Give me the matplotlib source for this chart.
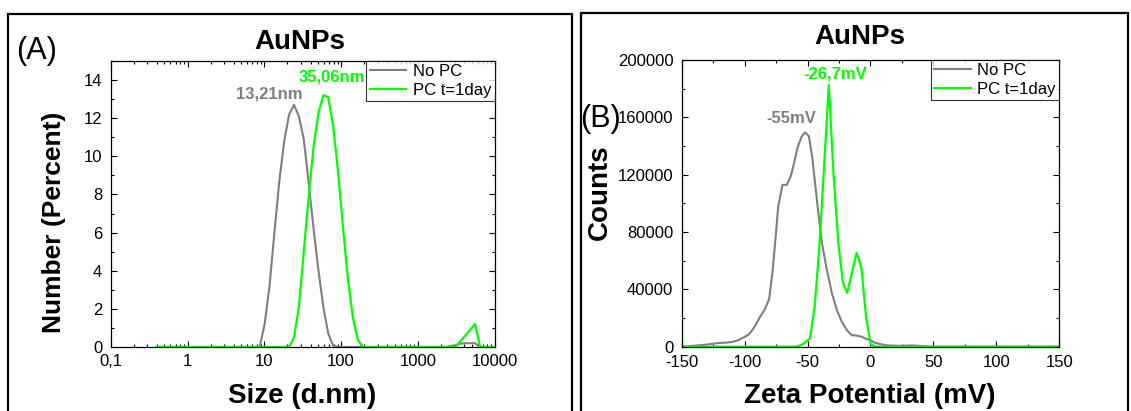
import matplotlib
matplotlib.use("Agg")
import matplotlib.pyplot as plt
from matplotlib.patches import Rectangle
from matplotlib.ticker import LogLocator, MultipleLocator, NullFormatter

plt.rcParams['font.family'] = ['Liberation Sans', 'DejaVu Sans']
plt.rcParams['axes.unicode_minus'] = False

# ---- size distribution by number (DLS) ----
size_nopc = [0.4, 7.531, 8.721, 10.1, 11.7, 13.54, 15.69, 18.17, 21.04, 24.36, 28.21,
             32.67, 37.84, 43.82, 50.75, 58.77, 68.06, 78.82, 91.28, 1990, 2305, 2669,
             3091, 3580, 4145, 4801, 5560, 6439, 10000]
number_nopc = [0, 0, 0, 1.2, 3.2, 6.0, 8.7, 10.8, 12.2, 12.7, 12.1,
               10.9, 8.6, 6.2, 4.0, 2.1, 0.7, 0.07, 0, 0, 0, 0.05,
               0.1, 0.18, 0.2, 0.2, 0.2, 0, 0]

size_pc = [0.4, 21.04, 24.36, 28.21, 32.67, 37.84, 43.82, 50.75, 58.77, 68.06, 78.82,
           91.28, 105.7, 122.4, 141.8, 164.2, 190.1, 3091, 3580, 4145, 4801, 5560,
           6439, 10000]
number_pc = [0, 0, 0.5, 2.1, 5.0, 7.9, 10.5, 12.3, 13.2, 13.1, 11.6,
             9.2, 6.3, 3.6, 1.6, 0.4, 0, 0, 0.3, 0.6, 0.9, 1.2,
             0, 0]

size_ticks = [0.1, 1, 10, 100, 1000, 10000]
size_tick_labels = ["0,1", "1", "10", "100", "1000", "10000"]

# ---- zeta potential distribution ----
zeta_nopc = [-150, -145, -140, -135, -130, -125, -120, -115, -110, -105, -100, -97,
             -94, -91, -88, -85, -83.5, -80.4, -77.7, -75.1, -73.3, -69.9, -66.5,
             -63.4, -60.7, -58.1, -54.7, -52, -49, -46.3, -43.7, -41.1, -38.5,
             -34.6, -30.6, -26.7, -22.8, -18.8, -14.9, -11, -7.1, -3.1, 0, 3.4, 8,
             13, 18, 24, 30, 34.5, 42, 50, 150]
counts_nopc = [0, 300, 700, 1100, 1500, 2100, 2600, 2800, 3300, 4600, 6800, 8300,
               11500, 15500, 20500, 24500, 26800, 33700, 53500, 79000, 97700, 112900, 112900,
               118700, 128000, 138500, 146600, 149500, 147000, 132600, 111700, 90800, 72100,
               53500, 37200, 25600, 17500, 11600, 8100, 7700, 7000, 5300, 4650, 2800, 1800,
               1000, 700, 600, 800, 900, 300, 0, 0]

zeta_pc = [-150, -61, -58, -54, -50.5, -48, -44.3, -40.6, -36.9, -33.1, -29.4, -25.5,
           -21.9, -18.5, -14.8, -11, -7.2, -3.5, 0.2, 4, 150]
counts_pc = [0, 0, 300, 1500, 4000, 6000, 28000, 70000, 125000, 182500, 121000, 72000,
             45000, 37500, 51500, 65500, 55000, 21000, 1500, 0, 0]

zeta_ticks = [-150, -100, -50, 0, 50, 100, 150]
count_ticks = [0, 40000, 80000, 120000, 160000, 200000]

series_labels = ["No PC", "PC t=1day"]
gray = "#7f7f7f"
green = "#00ff00"

W, H = 1131, 411
fig = plt.figure(figsize=(W / 100, H / 100), dpi=100)


def fx(px):
    return px / W


def fy(py):
    return 1 - py / H


def style_axes(ax):
    for s in ax.spines.values():
        s.set_linewidth(0.9)
        s.set_color("black")
    ax.tick_params(which="both", direction="in", top=True, right=True,
                   labelsize=12, width=0.8)
    ax.tick_params(which="major", length=4)
    ax.tick_params(which="minor", length=2.5)
    ax.tick_params(axis="x", pad=5)
    ax.tick_params(axis="y", pad=6)


# panel frames
fig.add_artist(Rectangle((fx(8), fy(430)), fx(572 - 8), fy(14) - fy(430),
                         transform=fig.transFigure, fill=False, lw=1.6,
                         edgecolor="black", clip_on=False))
fig.add_artist(Rectangle((fx(581), fy(430)), fx(1128 - 581), fy(13) - fy(430),
                         transform=fig.transFigure, fill=False, lw=1.6,
                         edgecolor="black", clip_on=False))

# ---- left: size ----
ax1 = fig.add_axes([fx(110.7), fy(347), fx(494.7 - 110.7), fy(61) - fy(347)])
ax1.plot(size_nopc, number_nopc, color=gray, lw=1.5, label=series_labels[0])
ax1.plot(size_pc, number_pc, color=green, lw=1.6, label=series_labels[1])
ax1.set_xscale("log")
ax1.set_xlim(0.1, 10000)
ax1.set_ylim(0, 15)
ax1.set_xticks(size_ticks)
ax1.set_xticklabels(size_tick_labels)
ax1.xaxis.set_minor_locator(LogLocator(base=10, subs=range(2, 10), numticks=20))
ax1.xaxis.set_minor_formatter(NullFormatter())
ax1.yaxis.set_major_locator(MultipleLocator(2))
ax1.yaxis.set_minor_locator(MultipleLocator(1))
style_axes(ax1)
ax1.text(11.5, 13.28, "13,21nm", color=gray, fontsize=12, fontweight="bold",
         ha="center", va="center")
ax1.text(75, 14.15, "35,06nm", color=green, fontsize=12, fontweight="bold",
         ha="center", va="center")
leg1 = ax1.legend(loc="upper right", borderaxespad=0, fontsize=12, frameon=True,
                  fancybox=False, handlelength=2.2, handletextpad=0.4,
                  labelspacing=0.2, borderpad=0.2)
leg1.get_frame().set_edgecolor("black")
leg1.get_frame().set_linewidth(0.8)

fig.text(fx(300), fy(41.7), "AuNPs", fontsize=20, fontweight="bold",
         ha="center", va="center")
fig.text(fx(302), fy(396), "Size (d.nm)", fontsize=20, fontweight="bold",
         ha="center", va="center")
fig.text(fx(54), fy(222), "Number (Percent)", fontsize=19, fontweight="bold",
         ha="center", va="center", rotation=90)
fig.text(fx(36.5), fy(51.5), "(A)", fontsize=22, ha="center", va="center")

# ---- right: zeta potential ----
ax2 = fig.add_axes([fx(681.7), fy(346.7), fx(1059.2 - 681.7), fy(60) - fy(346.7)])
ax2.plot(zeta_nopc, counts_nopc, color=gray, lw=1.5, label=series_labels[0])
ax2.plot(zeta_pc, counts_pc, color=green, lw=1.6, label=series_labels[1])
ax2.set_xlim(-150, 150)
ax2.set_ylim(0, 200000)
ax2.set_xticks(zeta_ticks)
ax2.set_yticks(count_ticks)
ax2.xaxis.set_minor_locator(MultipleLocator(25))
ax2.yaxis.set_minor_locator(MultipleLocator(20000))
style_axes(ax2)
ax2.tick_params(axis="x", pad=6)
ax2.text(-27.7, 190400, "-26,7mV", color=green, fontsize=12, fontweight="bold",
         ha="center", va="center")
ax2.text(-62.5, 159000, "-55mV", color=gray, fontsize=12, fontweight="bold",
         ha="center", va="center")
leg2 = ax2.legend(loc="upper right", borderaxespad=0, fontsize=12, frameon=True,
                  fancybox=False, handlelength=2.2, handletextpad=0.4,
                  labelspacing=0.2, borderpad=0.2)
leg2.get_frame().set_edgecolor("black")
leg2.get_frame().set_linewidth(0.8)

fig.text(fx(860), fy(36.5), "AuNPs", fontsize=20, fontweight="bold",
         ha="center", va="center")
fig.text(fx(870), fy(396), "Zeta Potential (mV)", fontsize=20, fontweight="bold",
         ha="center", va="center")
fig.text(fx(600), fy(192), "Counts", fontsize=20, fontweight="bold",
         ha="center", va="center", rotation=90)
fig.text(fx(601), fy(118.5), "(B)", fontsize=22, ha="center", va="center")

fig.savefig("out.png", dpi=100)
